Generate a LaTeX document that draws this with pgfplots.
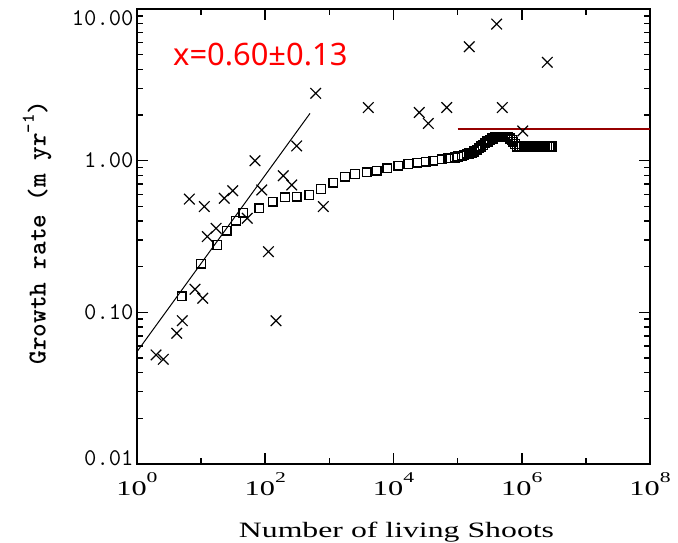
\documentclass[border=0pt]{standalone}
\usepackage{fontspec}
\usepackage{pgfplots}
\pgfplotsset{compat=1.18}
\newfontfamily\hersh[FakeStretch=1.45]{Liberation Serif}
\newfontfamily\redfont{Noto Sans}
\definecolor{darkredline}{RGB}{150,0,0}
\newcommand\pw[1]{10\raisebox{13bp}{\fontsize{15}{15}\selectfont #1}}
\begin{document}
\begin{tikzpicture}
\begin{axis}[
  scale only axis,
  width=513bp, height=455bp,
  xmode=log, ymode=log,
  xmin=1, xmax=1e8, ymin=0.01, ymax=10,
  xtick={1,1e2,1e4,1e6,1e8},
  xticklabels={\pw{0},\pw{2},\pw{4},\pw{6},\pw{8}},
  minor xtick={10,1e3,1e5,1e7},
  ytick={0.01,0.1,1,10},
  yticklabels={\raisebox{-1.5bp}[0pt][0pt]{0.01},0.10,1.00,\raisebox{-16bp}[0pt][0pt]{10.00}},
  minor ytick={0.02,0.03,0.04,0.05,0.06,0.07,0.08,0.09,0.2,0.3,0.4,0.5,0.6,0.7,0.8,0.9,2,3,4,5,6,7,8,9},
  tick align=inside,
  major tick length=11bp,
  minor tick length=6bp,
  tick style={black, line width=1.6bp},
  axis background/.style={draw=black, line width=1.3bp},
  xticklabel style={font=\hersh\fontsize{21}{21}\selectfont, yshift=-5bp},
  yticklabel style={font=\ttfamily\fontsize{24}{24}\selectfont},
]
\addplot[black, line width=1bp] coordinates {(1,0.055) (499,2.05)};
\addplot[black, only marks, mark=square, mark size=4.3bp, mark options={line width=1.5bp}] coordinates {
(4.98,0.128) (9.96,0.209) (17.9,0.278) (25.0,0.345) (35.0,0.402) (45.5,0.454)
(80.8,0.485) (131,0.536) (203,0.573) (309,0.578) (486,0.594) (740,0.650)
(1151,0.716) (1753,0.783) (2510,0.817) (3820,0.838) (5470,0.859) (8000,0.891)
(11900,0.923) (17000,0.951) (23500,0.971) (31800,0.984) (41800,1.00) (56500,1.02)
(71600,1.04) (91000,1.05) (101400,1.065) (116000,1.08) (125700,1.09) (139000,1.11)
(150400,1.115) (166000,1.13) (179900,1.149) (198000,1.18) (213000,1.206) (229000,1.24)
(248700,1.268) (267000,1.30) (292300,1.337) (320000,1.37) (349800,1.40) (383000,1.43)
(418700,1.437) (458000,1.44) (501000,1.44) (548000,1.44) (599500,1.426) (656000,1.40)
(704600,1.368) (738000,1.33) (785000,1.288) (834000,1.24) (922600,1.24) (1009000,1.24)
(1104000,1.24) (1207000,1.24) (1321000,1.24) (1445000,1.24) (1581000,1.24) (1729000,1.24)
(1892000,1.24) (2070000,1.24) (2264000,1.24) (2477000,1.24) (2710000,1.24) (2930000,1.24)
};
\addplot[black, only marks, mark=x, mark size=7.5bp, mark options={line width=1.2bp}] coordinates {
(1.98,0.0524) (2.57,0.0490) (4.16,0.0728) (5.09,0.0881) (6.54,0.558) (8.03,0.142)
(10.6,0.124) (11.2,0.498) (12.5,0.316) (17.1,0.358) (23.0,0.565) (31.1,0.634)
(52.5,0.417) (69.2,1.00) (88.1,0.641) (112,0.251) (147,0.0881) (191,0.796)
(259,0.692) (309,1.25) (612,2.78) (804,0.498) (4050,2.24) (25200,2.08)
(34900,1.76) (67600,2.24) (152000,5.64) (406000,7.96) (498000,2.24) (1035000,1.57)
(2500000,4.45)
};
\addplot[darkredline, line width=2.2bp] coordinates {(1e5,1.61) (1e8,1.61)};
\node[anchor=base west, inner sep=0, text=red, font=\redfont\fontsize{31}{31}\selectfont] at (rel axis cs:0.0702,0.8754) {x=0.60±0.13};
\end{axis}
\node[rotate=90, anchor=center, font=\ttfamily\bfseries\fontsize{26}{26}\selectfont] at ([xshift=-100bp,yshift=4bp]current axis.west) {Growth rate (m yr\raisebox{0.45em}{\fontsize{18}{18}\selectfont -1})};
\node[anchor=base, font=\hersh\fontsize{22}{22}\selectfont] at ([xshift=3bp,yshift=-73bp]current axis.south) {Number of living Shoots};
\pgfresetboundingbox
\path ([shift={(-137bp,-79bp)}]current axis.south west) rectangle ([shift={(28bp,9bp)}]current axis.north east);
\end{tikzpicture}
\end{document}
